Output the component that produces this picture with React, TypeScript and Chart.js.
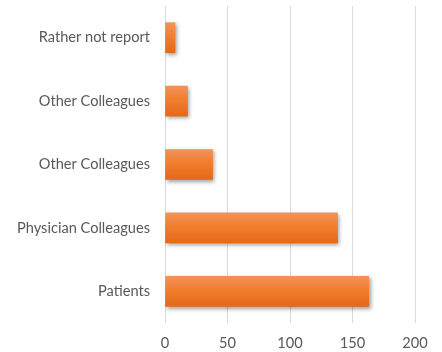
import React, { useEffect, useRef } from "react";
import { Chart, registerables } from "chart.js";

Chart.register(...registerables);

const categories = [
  "Rather not report",
  "Other Colleagues",
  "Other Colleagues",
  "Physician Colleagues",
  "Patients",
];
const counts = [8, 18, 38, 138, 163];
const xTicks = [0, 50, 100, 150, 200];

const BAR_THICKNESS = 30;
const FONT = "Lato, 'Open Sans', 'Liberation Sans', sans-serif";

// Soft drop shadow under the bars, Office style
const barShadow = {
  id: "barShadow",
  beforeDatasetsDraw(chart: any) {
    const ctx = chart.ctx;
    ctx.save();
    ctx.shadowColor = "rgba(0,0,0,0.38)";
    ctx.shadowBlur = 4;
    ctx.shadowOffsetX = 1.5;
    ctx.shadowOffsetY = 2;
  },
  afterDatasetsDraw(chart: any) {
    chart.ctx.restore();
  },
};

function barFill(c: any) {
  const chart = c.chart;
  const yScale = chart.scales && chart.scales.y;
  if (!yScale || !chart.chartArea) return "#f07c2a";
  const center = yScale.getPixelForValue(c.dataIndex);
  const top = center - BAR_THICKNESS / 2;
  const bottom = center + BAR_THICKNESS / 2;
  const g = chart.ctx.createLinearGradient(0, top, 0, bottom);
  g.addColorStop(0, "#f2925a");
  g.addColorStop(0.5, "#f17c2a");
  g.addColorStop(1, "#e3691b");
  return g;
}

export default function App() {
  const ref = useRef<HTMLCanvasElement | null>(null);

  useEffect(() => {
    if (!ref.current) return;
    const chart = new Chart(ref.current, {
      type: "bar",
      data: {
        labels: categories,
        datasets: [
          {
            data: counts,
            backgroundColor: barFill,
            borderWidth: 0,
            barThickness: BAR_THICKNESS,
          },
        ],
      },
      plugins: [barShadow],
      options: {
        indexAxis: "y",
        animation: false,
        responsive: false,
        layout: { padding: { top: 6, right: 27, bottom: 0, left: 0 } },
        plugins: {
          legend: { display: false },
          tooltip: { enabled: false },
        },
        scales: {
          x: {
            min: 0,
            max: 200,
            afterBuildTicks: (scale: any) => {
              scale.ticks = xTicks.map((v) => ({ value: v }));
            },
            afterFit: (scale: any) => {
              scale.height = 29;
            },
            grid: { color: "#d9d9d9", lineWidth: 1, drawTicks: false },
            border: { display: false },
            ticks: {
              color: "#595959",
              padding: 12,
              font: { family: FONT, size: 14.6 },
            },
          },
          y: {
            afterFit: (scale: any) => {
              scale.width = 165;
              scale.paddingTop = 0;
              scale.paddingBottom = 0;
            },
            grid: { display: false, drawTicks: false },
            border: { display: false },
            ticks: {
              color: "#595959",
              padding: 15,
              font: { family: FONT, size: 14.6 },
            },
          },
        },
      },
    });
    return () => chart.destroy();
  }, []);

  return (
    <canvas
      ref={ref}
      width={442}
      height={352}
      style={{ position: "fixed", left: 0, top: 0, display: "block", background: "#fff" }}
    />
  );
}
